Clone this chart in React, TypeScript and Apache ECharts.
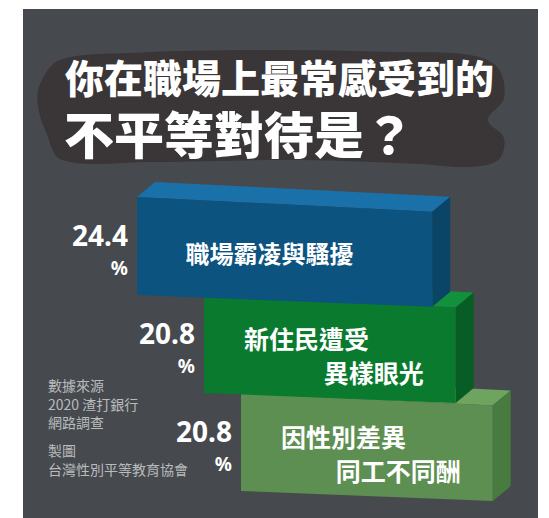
import React, { useEffect, useRef } from "react";
import * as echarts from "echarts";

// ---- data ----
const CATEGORIES = ["職場霸凌與騷擾", "新住民遭受異樣眼光", "因性別差異同工不同酬"];
const VALUES = [24.4, 20.8, 20.8];
const LABEL_LINES = [["職場霸凌與騷擾"], ["新住民遭受", "異樣眼光"], ["因性別差異", "同工不同酬"]];
const TITLE_LINES = ["你在職場上最常感受到的", "不平等對待是？"];
const SOURCE_LINES = ["數據來源", "2020 渣打銀行", "網路調查"];
const MAKER_LINES = ["製圖", "台灣性別平等教育協會"];

// ---- styling ----
const FACE_COLORS = [
  { front: "#0c5380", top: "#1a70a8", side: "#0a4467" },
  { front: "#097a2e", top: "#12913c", side: "#075d23" },
  { front: "#5d8f52", top: "#6ea460", side: "#487b3f" },
];
const ROW_SHIFT = [0, 67, 104];
const FRONT_H = 98;
const SLOPE = 0.05;
const DEPTH = [18, -15];
const CJK = '"Noto Sans CJK TC", "Noto Sans CJK SC", sans-serif';
const NUM = '"Noto Sans", "Open Sans", sans-serif';

export default function App() {
  const ref = useRef<HTMLDivElement>(null);
  useEffect(() => {
    if (!ref.current) return;
    const chart = echarts.init(ref.current, null, { renderer: "svg" });
    const data = VALUES.map((v, i) => [v, i]);

    const option: any = {
      animation: false,
      backgroundColor: "#ffffff",
      grid: { left: 137, right: 49, top: 197, bottom: 27 },
      xAxis: { type: "value", min: 0, max: 30, show: false },
      yAxis: { type: "category", data: CATEGORIES, inverse: true, show: false },
      graphic: [
        { type: "rect", shape: { x: 23, y: 9, width: 515, height: 509 }, style: { fill: "#464a4e" }, z: -10 },
        {
          type: "polygon",
          z: -9,
          shape: {
            smooth: 0.35,
            points: [
              [40, 84], [60, 60], [130, 53], [260, 50], [400, 52], [470, 55], [498, 68], [504, 98],
              [488, 120], [504, 138], [498, 160], [468, 167], [420, 164], [300, 160], [150, 162],
              [62, 160], [46, 132], [38, 106],
            ],
          },
          style: { fill: "#3a3536" },
        },
        {
          type: "text", x: 65, y: 76, z: 10,
          style: { text: TITLE_LINES[0], fill: "#ffffff", font: `900 39px ${CJK}`, textAlign: "left", textVerticalAlign: "middle", align: "left", verticalAlign: "middle" },
        },
        {
          type: "text", x: 64, y: 132, z: 10,
          style: { text: TITLE_LINES[1], fill: "#ffffff", font: `900 50px ${CJK}`, textAlign: "left", textVerticalAlign: "middle", align: "left", verticalAlign: "middle" },
        },
        {
          type: "text", x: 48, y: 376, z: 10,
          style: {
            text: SOURCE_LINES.join("\n"),
            fill: "#b9bbbd", font: `14px ${CJK}`, lineHeight: 18.5,
            textAlign: "left", textVerticalAlign: "top", align: "left", verticalAlign: "top",
          },
        },
        {
          type: "text", x: 48, y: 441, z: 10,
          style: {
            text: MAKER_LINES.join("\n"),
            fill: "#b9bbbd", font: `14px ${CJK}`, lineHeight: 18.5,
            textAlign: "left", textVerticalAlign: "top", align: "left", verticalAlign: "top",
          },
        },
      ],
      series: [
        {
          type: "custom",
          data,
          encode: { x: 0, y: 1 },
          renderItem: (params: any, api: any) => {
            const val = api.value(0) as number;
            const idx = api.value(1) as number;
            const base = api.coord([0, idx]);
            const len = api.size([val, 0])[0];
            const x0 = base[0] + ROW_SHIFT[idx];
            const cy = base[1];
            const x1 = x0 + len;
            const h = FRONT_H / 2;
            const tl = [x0, cy - h];
            const tr = [x1, cy - h + len * SLOPE];
            const br = [x1, cy + h + len * SLOPE * 0.8];
            const bl = [x0, cy + h];
            const add = (p: number[]) => [p[0] + DEPTH[0], p[1] + DEPTH[1]];
            const c = FACE_COLORS[idx];
            const zb = 100 - idx * 20;
            const lines = LABEL_LINES[idx];
            const textEls: any[] = [];
            const ts = (text: string, x: number, y: number, align: string, size: number) => ({
              type: "text",
              z2: zb + 5,
              x, y,
              style: { text, fill: "#ffffff", font: `bold ${size}px ${CJK}`, textAlign: align, textVerticalAlign: "middle", align, verticalAlign: "middle" },
            });
            if (lines.length === 1) {
              textEls.push(ts(lines[0], (x0 + x1) / 2 - 15, cy + 6, "center", 24));
            } else {
              textEls.push(ts(lines[0], x0 + 40, cy - 6, "left", 25));
              textEls.push(ts(lines[1], x1 - 32, cy + 28, "right", 25));
            }
            const numStr = val.toFixed(1);
            textEls.push({
              type: "text", z2: zb + 5, x: x0 - 9, y: cy - 11,
              style: { text: numStr, fill: "#ffffff", font: `bold 28px ${NUM}`, textAlign: "right", textVerticalAlign: "middle", align: "right", verticalAlign: "middle" },
            });
            textEls.push({
              type: "text", z2: zb + 5, x: x0 - 9, y: cy + 22,
              style: { text: "%", fill: "#ffffff", font: `bold 19px ${NUM}`, textAlign: "right", textVerticalAlign: "middle", align: "right", verticalAlign: "middle" },
            });
            return {
              type: "group",
              children: [
                { type: "polygon", z2: zb, shape: { points: [tl, tr, add(tr), add(tl)] }, style: { fill: c.top } },
                { type: "polygon", z2: zb, shape: { points: [tr, add(tr), add(br), br] }, style: { fill: c.side } },
                { type: "polygon", z2: zb + 1, shape: { points: [tl, tr, br, bl] }, style: { fill: c.front } },
                ...textEls,
              ],
            };
          },
        },
      ],
    };
    chart.setOption(option);
    return () => chart.dispose();
  }, []);
  return <div ref={ref} style={{ position: "fixed", left: 0, top: 0, width: 549, height: 518 }} />;
}
